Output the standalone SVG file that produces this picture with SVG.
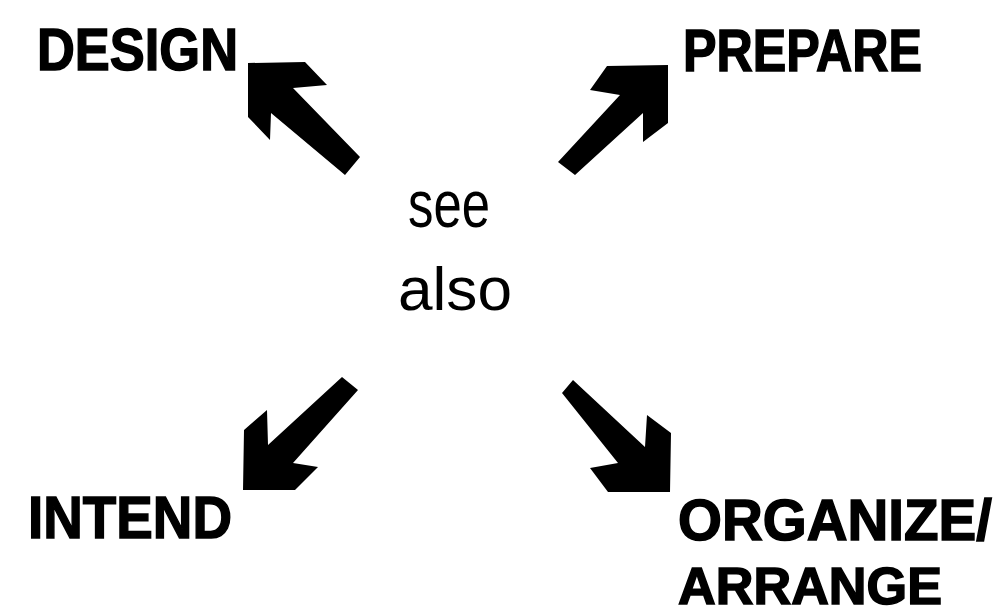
<svg xmlns="http://www.w3.org/2000/svg" width="1005" height="614" viewBox="0 0 1005 614">
<style>
.lbl{font-family:"Liberation Sans",Arial,sans-serif;font-weight:bold;font-size:60px;fill:#000;stroke:#000;stroke-width:1.5px}
.ctr{font-family:"Liberation Sans",Arial,sans-serif;font-size:62px;fill:#000}
.arr{fill:#000;stroke:none}
</style>
<rect width="1005" height="614" fill="#fff"/>
<g id="center">
<text class="ctr" x="408" y="227" style="font-size:66px" textLength="82" lengthAdjust="spacingAndGlyphs">see</text>
<text class="ctr" x="398" y="310" textLength="114" lengthAdjust="spacingAndGlyphs">also</text>
</g>
<g id="design"><text class="lbl" x="37" y="70" textLength="201" lengthAdjust="spacingAndGlyphs">DESIGN</text></g>
<g id="prepare"><text class="lbl" x="683" y="71" textLength="239" lengthAdjust="spacingAndGlyphs">PREPARE</text></g>
<g id="intend"><text class="lbl" x="28" y="538" textLength="204" lengthAdjust="spacingAndGlyphs">INTEND</text></g>
<g id="organize">
<text class="lbl" x="678" y="540" style="font-size:57px" textLength="314" lengthAdjust="spacingAndGlyphs">ORGANIZE/</text>
<text class="lbl" x="678" y="604" style="font-size:51px" textLength="264" lengthAdjust="spacingAndGlyphs">ARRANGE</text>
</g>
<g id="connectors">
<polygon class="arr" points="248,63 305,62 327,85 293,88 360,157 345,175 271,113 270,140 248,117"/>
<polygon class="arr" points="607,66 668,65 668,123 643,142 643,113 575,175 558,162 620,95 590,90"/>
<polygon class="arr" points="243,490 244,430 267,410 268,445 342,377 358,390 293,463 318,467 295,490"/>
<polygon class="arr" points="573,380 645,447 647,415 671,433 670,492 608,492 590,468 618,463 562,393"/>
</g>
</svg>
